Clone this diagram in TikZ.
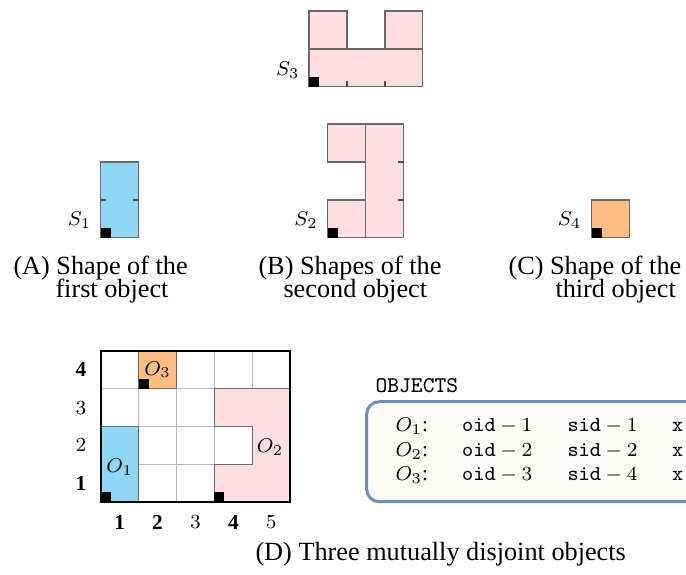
\documentclass[tikz,border=0pt]{standalone}
\usepackage{fontspec}
\setmainfont{Liberation Serif}
\usetikzlibrary{positioning}
\definecolor{objblue}{RGB}{141,215,247}
\definecolor{objpink}{RGB}{255,222,226}
\definecolor{objorange}{RGB}{255,190,128}
\definecolor{outlinegray}{RGB}{105,105,105}
\definecolor{boxblue}{RGB}{108,142,191}
\definecolor{boxfill}{RGB}{253,253,246}

\begin{document}
\begin{tikzpicture}[x=0.4pt, y=-0.4pt,
        forma/.style={draw=outlinegray, line width=0.6pt},
        marca/.style={draw=outlinegray!70!black, line width=0.6pt},
        ancora/.style={fill=black},
        rotulo/.style={font=\fontsize{8.5}{10}\selectfont, inner sep=0pt},
        legenda/.style={font=\fontsize{10.5}{12}\selectfont, inner sep=0pt, anchor=base west},
        linha/.style={font=\fontsize{8.5}{10}\selectfont, inner sep=0pt, anchor=base west}]
        \useasboundingbox (0,0) rectangle (686,574);
        \clip (0,0) rectangle (686,574);
        % Forma S3 (topo)
        \begin{scope}[shift={(309,86.7)}, x=15.16pt, y=15.16pt]
            \draw[forma, fill=objpink] (0,0) rectangle (3,1);
            \draw[forma, fill=objpink] (0,1) rectangle (1,2);
            \draw[forma, fill=objpink] (2,1) rectangle (3,2);
            \draw[marca] (1,0) -- (1,0.14) (2,0) -- (2,0.14);
            \fill[ancora] (0,0) rectangle (0.264,0.264);
        \end{scope}
        \node[rotulo, anchor=east] (lblS3) at (300,70) {$S_3$};
        % Forma S1
        \begin{scope}[shift={(100.7,237.7)}, x=15.16pt, y=15.16pt]
            \draw[forma, fill=objblue] (0,0) rectangle (1,2);
            \draw[marca] (0,1) -- (0.14,1) (1,1) -- (0.86,1);
            \fill[ancora] (0,0) rectangle (0.264,0.264);
        \end{scope}
        \node[rotulo, anchor=east] (lblS1) at (91.7,220) {$S_1$};
        % Formas S2
        \begin{scope}[shift={(327.7,237.7)}, x=15.16pt, y=15.16pt]
            \draw[forma, fill=objpink] (0,0) rectangle (1,1);
            \draw[forma, fill=objpink] (0,2) rectangle (1,3);
            \draw[forma, fill=objpink] (1,0) rectangle (2,3);
            \draw[marca] (2,1) -- (1.86,1) (2,2) -- (1.86,2);
            \fill[ancora] (0,0) rectangle (0.264,0.264);
        \end{scope}
        \node[rotulo, anchor=east] (lblS2) at (318.3,220) {$S_2$};
        % Forma S4
        \begin{scope}[shift={(591.7,237.7)}, x=15.16pt, y=15.16pt]
            \draw[forma, fill=objorange] (0,0) rectangle (1,1);
            \fill[ancora] (0,0) rectangle (0.264,0.264);
        \end{scope}
        \node[rotulo, anchor=east] (lblS4) at (581.7,220) {$S_4$};
        % Legendas (A), (B), (C)
        \node[legenda] (legA1) at (13,274) {(A) Shape of the};
        \node[legenda] (legA2) at (55,297) {first object};
        \node[legenda] (legB1) at (258,274) {(B) Shapes of the};
        \node[legenda] (legB2) at (283,297) {second object};
        \node[legenda] (legC1) at (508,274) {(C) Shape of the};
        \node[legenda] (legC2) at (555,297) {third object};
        % Grade com os tres objetos
        \begin{scope}[shift={(100.7,502.3)}, x=15.16pt, y=15.16pt]
            \foreach \c in {1,...,4}
                \draw[gray!55, line width=0.4pt] (\c,0) -- (\c,4);
            \foreach \r in {1,...,3}
                \draw[gray!55, line width=0.4pt] (0,\r) -- (5,\r);
            \draw[forma, fill=objblue] (0,0) rectangle (1,2);
            \draw[forma, fill=objorange] (1,3) rectangle (2,4);
            \draw[forma, fill=objpink] (3,0) -- (5,0) -- (5,3) -- (3,3) -- (3,2) -- (4,2) -- (4,1) -- (3,1) -- cycle;
            \fill[ancora] (0,0) rectangle (0.264,0.264);
            \fill[ancora] (1,3) rectangle (1.264,3.264);
            \fill[ancora] (3,0) rectangle (3.264,0.264);
            \draw[line width=0.8pt] (0,0) rectangle (5,4);
            \node[rotulo] (nomeO1) at (0.5,0.93) {$O_1$};
            \node[rotulo] (nomeO2) at (4.47,1.46) {$O_2$};
            \node[rotulo] (nomeO3) at (1.5,3.5) {$O_3$};
            % Numeros das linhas e colunas
            \foreach \r/\t in {1/{\mathbf{1}}, 2/2, 3/3, 4/{\mathbf{4}}}
                \node[rotulo] (lin\r) at (-0.52,\r-0.5) {$\t$};
            \foreach \c/\t in {1/{\mathbf{1}}, 2/{\mathbf{2}}, 3/3, 4/{\mathbf{4}}, 5/5}
                \node[rotulo] (col\c) at (\c-0.5,-0.52) {$\t$};
        \end{scope}
        % Tabela OBJECTS
        \node[linha, font=\fontsize{9}{10}\ttfamily] (titulo) at (375,392) {OBJECTS};
        \draw[draw=boxblue, fill=boxfill, line width=1.2pt, rounded corners=5pt] (366.7,401.7) rectangle (740,501.7);
        \foreach \i/\s/\y in {1/1/431.7, 2/2/456.7, 3/4/480.7} {
            \node[linha] (obj\i) at (395,\y) {$O_\i$:};
            \node[linha] (oid\i) at (461.7,\y) {$\mathtt{oid}-\i$};
            \node[linha] (sid\i) at (567,\y) {$\mathtt{sid}-\s$};
            \node[linha] (x\i) at (671.7,\y) {\ttfamily x};
        }
        % Legenda inferior
        \node[legenda] (legD) at (255,560) {(D) Three mutually disjoint objects};
    \end{tikzpicture}
\end{document}
